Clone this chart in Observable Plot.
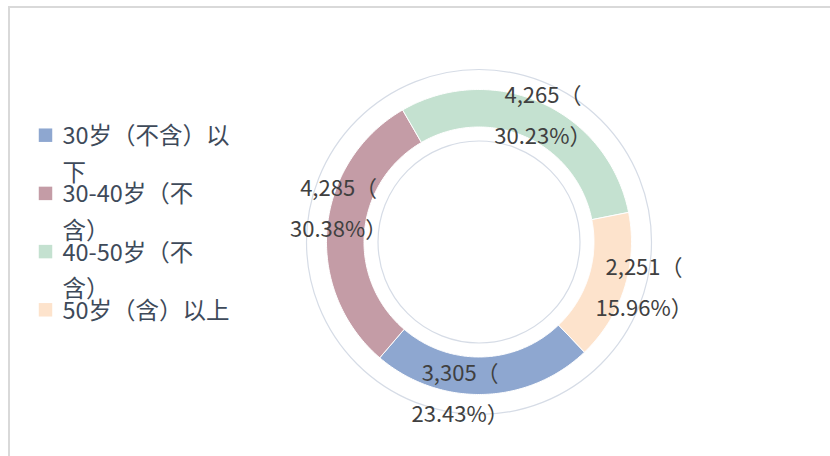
<!DOCTYPE html>
<html>
<head>
<meta charset="utf-8">
<script src="https://cdn.jsdelivr.net/npm/d3@7"></script>
<script src="https://cdn.jsdelivr.net/npm/@observablehq/plot@0.6"></script>
<style>
  html, body { margin: 0; padding: 0; background: #fff; }
  #wrap { position: relative; width: 830px; height: 456px; overflow: hidden; }
  #frame { position: absolute; left: 7.5px; top: 5.5px; width: 900px; height: 600px;
           border-top: 2px solid #d9d9d9; border-left: 2px solid #d9d9d9; pointer-events: none; }
  #wrap svg { position: absolute; left: 0; top: 0; }
</style>
</head>
<body>
<div id="wrap"><div id="frame"></div></div>
<script>
// ---- data ----
const categories = ["30岁（不含）以下", "30-40岁（不含）", "40-50岁（不含）", "50岁（含）以上"];
const counts = [3305, 4285, 4265, 2251];
const percents = [23.43, 30.38, 30.23, 15.96];
const colors = ["#8EA7D0", "#C49CA6", "#C4E1D0", "#FDE3CC"];

// ---- layout ----
const W = 830, H = 456;
const cx = 478.5, cy = 241.5;
const rOuter = 152.5, rInner = 115;
const ringOuter = 172.5, ringInner = 101;
const startDeg = 136.25;
const labelR = 150;
const labelNudge = [[-23, -3.5], [9, -24.5], [2, 5], [22, -5]];
const font = "'Noto Sans CJK SC', 'Noto Sans', sans-serif";

const pie = d3.pie().sort(null).value(d => d.count)
  .startAngle(startDeg * Math.PI / 180)
  .endAngle(startDeg * Math.PI / 180 + 2 * Math.PI);

const rows = categories.map((c, i) => ({cat: c, count: counts[i], pct: percents[i], i}));
const arcs = pie(rows);

// polygon points for each slice
const polys = [];
arcs.forEach(a => {
  const n = 120;
  for (let k = 0; k <= n; k++) {
    const t = a.startAngle + (a.endAngle - a.startAngle) * k / n;
    polys.push({cat: a.data.cat, x: cx + rOuter * Math.sin(t), y: cy - rOuter * Math.cos(t)});
  }
  for (let k = n; k >= 0; k--) {
    const t = a.startAngle + (a.endAngle - a.startAngle) * k / n;
    polys.push({cat: a.data.cat, x: cx + rInner * Math.sin(t), y: cy - rInner * Math.cos(t)});
  }
  const t0 = a.startAngle;
  polys.push({cat: a.data.cat, x: cx + rOuter * Math.sin(t0), y: cy - rOuter * Math.cos(t0)});
});

const fmt = d3.format(",");
const labels = arcs.map((a, i) => {
  const m = (a.startAngle + a.endAngle) / 2;
  return {
    x: cx + labelR * Math.sin(m) + labelNudge[i][0],
    y: cy - labelR * Math.cos(m) + labelNudge[i][1],
    text: fmt(a.data.count) + "（\n" + a.data.pct.toFixed(2) + "%）"
  };
});

// legend (wrap at 8 characters like the reference)
const wrap = (s, n) => { const ch = Array.from(s); const out = []; for (let k = 0; k < ch.length; k += n) out.push(ch.slice(k, k + n).join("")); return out.join("\n"); };
const legX = 45, legTextX = 62, legY0 = 134.7, legStep = 58.2;
const legend = categories.map((c, i) => ({cat: c, x: legX, tx: legTextX, y: legY0 + i * legStep, text: wrap(c, 8)}));

const plot = Plot.plot({
  width: W, height: H,
  margin: 0,
  x: {domain: [0, W], axis: null},
  y: {domain: [0, H], reverse: true, axis: null},
  color: {domain: categories, range: colors},
  style: {fontFamily: font, background: "transparent"},
  marks: [
    Plot.dot([{x: cx, y: cy}], {x: "x", y: "y", r: ringOuter, fill: "none", stroke: "#D6DCE6", strokeWidth: 1.2}),
    Plot.dot([{x: cx, y: cy}], {x: "x", y: "y", r: ringInner, fill: "none", stroke: "#D6DCE6", strokeWidth: 1.2}),
    Plot.line(polys, {x: "x", y: "y", z: "cat", fill: "cat", stroke: "white", strokeWidth: 1, curve: "linear"}),
    Plot.text(labels, {x: "x", y: "y", text: "text", fill: "#404040", fontSize: 22, lineHeight: 1.86, textAnchor: "middle"}),
    Plot.dot(legend, {x: "x", y: "y", symbol: "square", r: 7.6, fill: "cat", stroke: "none"}),
    Plot.text(legend, {x: "tx", y: "y", text: "text", fill: "#3E4A5A", fontSize: 23.5, lineHeight: 1.56, textAnchor: "start", lineAnchor: "top", dy: -17})
  ]
});
document.getElementById("wrap").prepend(plot);
</script>
</body>
</html>
